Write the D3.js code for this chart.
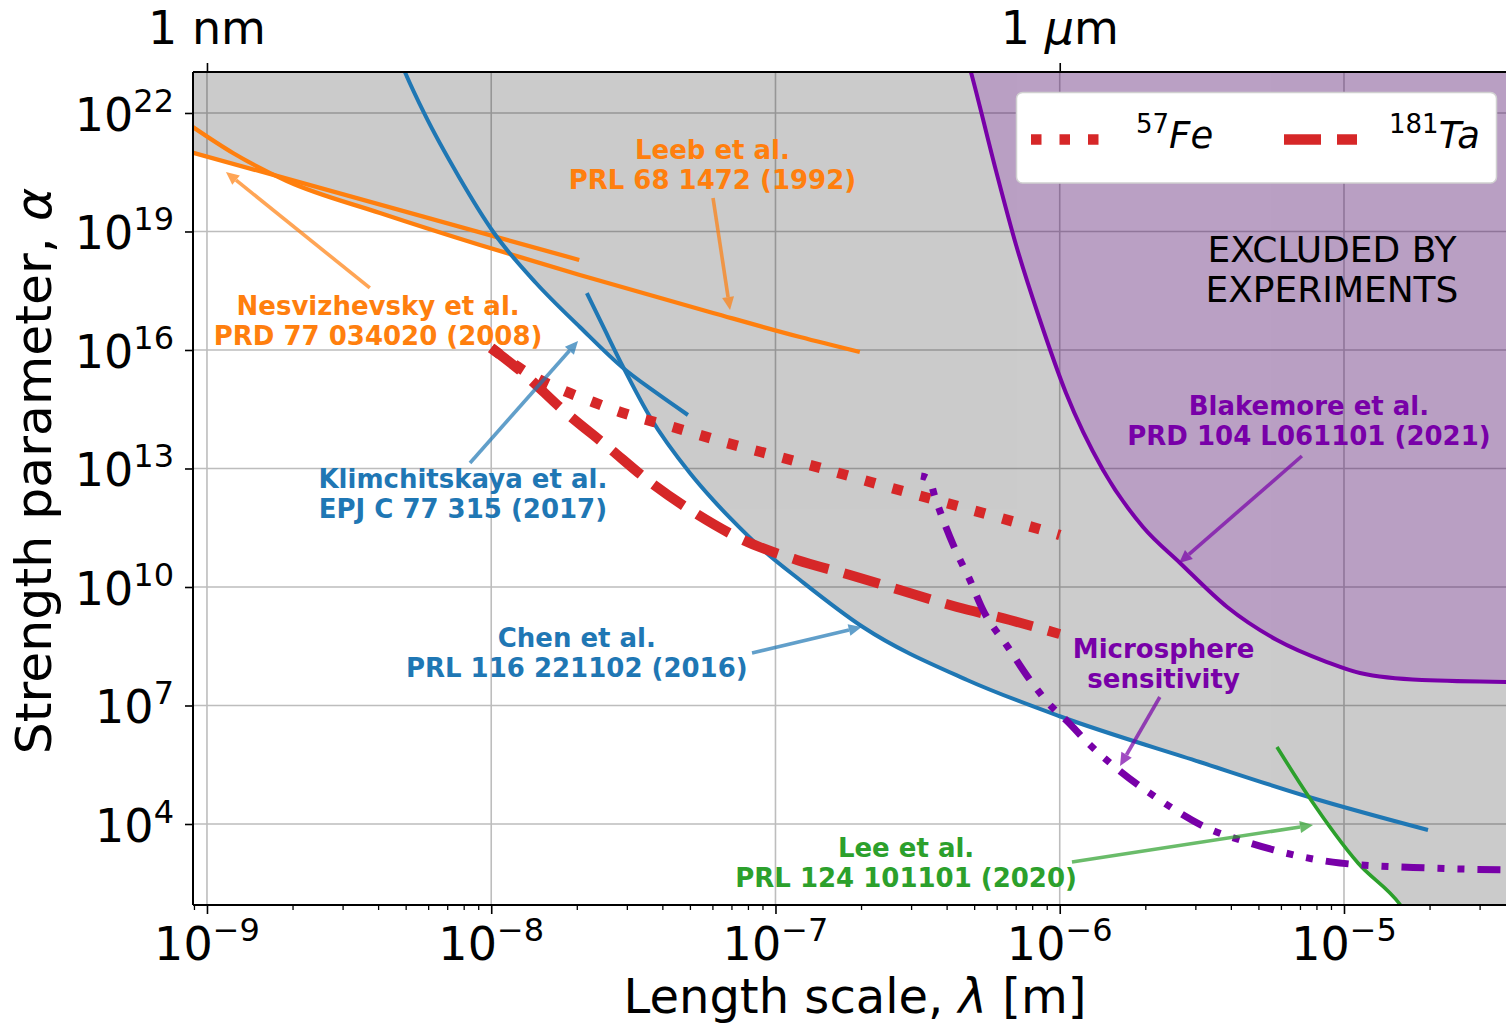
<!DOCTYPE html>
<html>
<head>
<meta charset="utf-8">
<script src="https://cdn.jsdelivr.net/npm/d3@7"></script>
<style>
  body { margin: 0; background: #fff; }
  svg { display: block; font-family: "DejaVu Sans", sans-serif; }
</style>
</head>
<body>
<div id="plot"></div>
<script>
// axis limits: length scale lambda [m], strength alpha
const xLimits = [8.93e-10, 3.9e-5];
const yLimits = [89, 1.09e23];

const xMajorTicks = [1e-9, 1e-8, 1e-7, 1e-6, 1e-5];
const xTickExponents = ["\u22129", "\u22128", "\u22127", "\u22126", "\u22125"];
const yMajorTicks = [1e4, 1e7, 1e10, 1e13, 1e16, 1e19, 1e22];
const yTickExponents = ["4", "7", "10", "13", "16", "19", "22"];
const topTicks = [1e-9, 1e-6];
const topTickUnits = ["nm", "m"];
const topTickPrefix = ["", "\u03bc"];

// existing limits, [lambda, alpha]
const nesvizhevsky = [[8.8e-10, 1.02e21], [2.04e-8, 1.9e18]];
const leeb = [[8.8e-10, 4.7e21], [1.234e-9, 9.7e20], [1.91e-9, 1.9e20], [4.06e-9, 2.94e19], [9.13e-9, 4.55e18],
  [2.05e-8, 7.93e17], [6.03e-8, 8.65e16], [1.22e-7, 2.13e16], [1.98e-7, 8.9e15]];
const klimchitskaya = [[4.62e-9, 3.94e23], [4.97e-9, 1.09e23], [5.85e-9, 8.9e21], [7.7e-9, 2.4e20], [1.023e-8, 9.16e18],
  [1.437e-8, 4.97e17], [2.05e-8, 3.82e16], [2.91e-8, 3.5e15], [3.77e-8, 8.65e14], [4.92e-8, 2.26e14]];
const chen = [[2.17e-8, 2.77e17], [2.51e-8, 3.21e16], [2.91e-8, 3.72e15], [3.62e-8, 2.01e14], [5.0e-8, 7.69e12],
  [6.03e-8, 1.6e12], [6.92e-8, 5.59e11], [9.04e-8, 8.65e10], [1.22e-7, 1.5e10], [2.03e-7, 9.7e8], [4.72e-7, 4.43e7],
  [9.94e-7, 5.42e6], [3.11e-6, 3.71e5], [7.53e-6, 4.83e4], [1.975e-5, 7.05e3]];
const lee = [[5.81e-6, 8.9e5], [7.53e-6, 4.83e4], [1.12e-5, 1.03e3], [1.58e-5, 89], [1.85e-5, 15.5]];
const blakemore = [[4.53e-7, 7.05e23], [4.87e-7, 1.09e23], [5.92e-7, 4.3e20], [7.02e-7, 4.55e18], [8.45e-7, 6.84e16],
  [1.052e-6, 8.15e14], [1.42e-6, 9.16e12], [1.963e-6, 3.3e11], [2.65e-6, 4.06e10], [3.88e-6, 3.12e9],
  [5.81e-6, 4.55e8], [8.71e-6, 1.26e8], [1.138e-5, 6.65e7], [1.88e-5, 4.43e7], [3.9e-5, 3.94e7]];

// projected sensitivities
const fe57 = [[1e-8, 1.12e16], [1.212e-8, 4.17e15], [1.484e-8, 1.74e15], [1.846e-8, 8.65e14], [2.28e-8, 4.83e14],
  [2.84e-8, 2.69e14], [4.36e-8, 1.12e14], [6.75e-8, 4.43e13], [1.037e-7, 1.95e13], [1.62e-7, 8.15e12],
  [2.49e-7, 3.4e12], [3.88e-7, 1.42e12], [6.01e-7, 5.92e11], [1e-6, 2.07e11]];
const ta181 = [[1e-8, 1.12e16], [1.293e-8, 2.62e15], [1.788e-8, 3.03e14], [2.55e-8, 3.72e13], [3.62e-8, 4.55e12],
  [5.21e-8, 7.47e11], [7.69e-8, 1.55e11], [1.19e-7, 4.83e10], [1.83e-7, 2.01e10], [2.74e-7, 8.4e9],
  [4.35e-7, 3.12e9], [6.68e-7, 1.46e9], [1e-6, 6.46e8]];
const microsphere = [[3.25e-7, 6.46e12], [3.47e-7, 5.42e12], [3.64e-7, 1.9e12], [4.25e-7, 1.03e11], [4.83e-7, 1.5e10],
  [5.37e-7, 2.62e9], [6.57e-7, 3.03e8], [7.86e-7, 4.43e7], [9.39e-7, 9.16e6], [1.052e-6, 4.3e6], [1.278e-6, 1.0e6],
  [1.565e-6, 2.77e5], [2.25e-6, 4.06e4], [3.24e-6, 8.39e3], [4.67e-6, 3.3e3], [9.68e-6, 1.03e3], [2.01e-5, 769],
  [3.9e-5, 684]];

const orange = "#ff7f0e", blue = "#1f77b4", green = "#2ca02c", red = "#d62728", purple = "#7800a8";

// label text, anchor (centre of first line), arrow tail and tip
const annotations = [
  { lines: ["Leeb et al.", "PRL 68 1472 (1992)"], color: orange, at: [6.0e-8, 6.84e20], tail: [6.03e-8, 7.05e19], tip: [6.92e-8, 1.03e17] },
  { lines: ["Nesvizhevsky et al.", "PRD 77 034020 (2008)"], color: orange, at: [4.0e-9, 7.69e16], tail: [3.74e-9, 3.72e17], tip: [1.166e-9, 3.21e20] },
  { lines: ["Klimchitskaya et al.", "EPJ C 77 315 (2017)"], color: blue, at: [7.95e-9, 3.21e12], tail: [8.42e-9, 1.38e13], tip: [2.02e-8, 1.69e16] },
  { lines: ["Chen et al.", "PRL 116 221102 (2016)"], color: blue, at: [2.0e-8, 3.03e8], tail: [8.27e-8, 2.13e8], tip: [2.01e-7, 9.7e8] },
  { lines: ["Lee et al.", "PRL 124 101101 (2020)"], color: green, at: [2.88e-7, 1.46e3], tail: [1.104e-6, 1.09e3], tip: [7.78e-6, 9.44e3] },
  { lines: ["Blakemore et al.", "PRD 104 L061101 (2021)"], color: purple, at: [7.53e-6, 2.26e14], tail: [7.11e-6, 2.07e13], tip: [2.63e-6, 4.06e10] },
  { lines: ["Microsphere", "sensitivity"], color: purple, at: [2.32e-6, 1.6e8], tail: [2.25e-6, 1.64e7], tip: [1.63e-6, 2.94e5] }
];
const excludedText = ["EXCLUDED BY", "EXPERIMENTS"];
const excludedAt = [9.07e-6, 1.69e18];

const W = 1506, H = 1027;
const plot = { left: 193, right: 1512, top: 72, bottom: 905 };

const x = d3.scaleLog().domain(xLimits).range([plot.left, plot.right]);
const y = d3.scaleLog().domain(yLimits).range([plot.bottom, plot.top]);
const pt = d => [x(d[0]), y(d[1])];
const smooth = d3.line().curve(d3.curveMonotoneX);

const svg = d3.select("#plot").append("svg").attr("width", W).attr("height", H);

svg.append("defs").append("clipPath").attr("id", "clip").append("rect")
  .attr("x", plot.left).attr("y", plot.top)
  .attr("width", plot.right - plot.left).attr("height", plot.bottom - plot.top);

// grid at the major ticks
const grid = svg.append("g").attr("stroke", "#bdbdbd").attr("stroke-width", 1.6);
xMajorTicks.forEach(v => grid.append("line")
  .attr("x1", x(v)).attr("x2", x(v)).attr("y1", plot.top).attr("y2", plot.bottom));
yMajorTicks.forEach(v => grid.append("line")
  .attr("x1", plot.left).attr("x2", plot.right).attr("y1", y(v)).attr("y2", y(v)));

const body = svg.append("g").attr("clip-path", "url(#clip)");

// excluded region: union of everything above each limit
const topEdge = plot.top - 30, farEdge = plot.right + 30;
const shade = body.append("g").attr("opacity", 0.2);
[nesvizhevsky, leeb, klimchitskaya, chen].forEach(c => {
  const p = c.map(pt);
  shade.append("path").attr("fill", "#000")
    .attr("d", smooth(p) + `L${p[p.length - 1][0]},${topEdge}L${p[0][0]},${topEdge}Z`);
});
{
  const p = lee.map(pt);
  shade.append("path").attr("fill", "#000")
    .attr("d", smooth(p) + `L${farEdge},${plot.bottom + 30}L${farEdge},${topEdge}L${p[0][0]},${topEdge}Z`);
}
{
  const p = blakemore.map(pt);
  body.append("path").attr("fill", purple).attr("opacity", 0.215)
    .attr("d", smooth(p) + `L${farEdge},${p[p.length - 1][1]}L${farEdge},${topEdge}L${p[0][0]},${topEdge}Z`);
}

// limit curves
const drawCurve = (data, color, width, dash, offset) => {
  const path = body.append("path")
    .attr("d", smooth(data.map(pt)))
    .attr("fill", "none")
    .attr("stroke", color)
    .attr("stroke-width", width);
  if (dash) path.attr("stroke-dasharray", dash).attr("stroke-dashoffset", offset || 0);
  return path;
};
drawCurve(nesvizhevsky, orange, 4.3);
drawCurve(leeb, orange, 4.3);
drawCurve(klimchitskaya, blue, 4);
drawCurve(chen, blue, 4);
drawCurve(lee, green, 3.6);
drawCurve(blakemore, purple, 4);
drawCurve(fe57, red, 10.5, "10.5 18");
drawCurve(ta181, red, 10, "37 16");
drawCurve(microsphere, purple, 7, "23 13 7 13 7 13", 17);

// arrows and labels
const labels = svg.append("g").attr("font-weight", "bold").attr("font-size", 26).attr("text-anchor", "middle");
annotations.forEach(a => {
  const [x0, y0] = pt(a.tail), [x1, y1] = pt(a.tip);
  const len = Math.hypot(x1 - x0, y1 - y0), ux = (x1 - x0) / len, uy = (y1 - y0) / len;
  const hl = 13, hw = 6;
  const bx = x1 - ux * hl, by = y1 - uy * hl;
  const g = svg.append("g").attr("opacity", 0.7);
  g.append("line").attr("x1", x0).attr("y1", y0).attr("x2", bx).attr("y2", by)
    .attr("stroke", a.color).attr("stroke-width", 3.6);
  g.append("path").attr("fill", a.color)
    .attr("d", `M${x1},${y1}L${bx - uy * hw},${by + ux * hw}L${bx + uy * hw},${by - ux * hw}Z`);

  const [cx, cy] = pt(a.at);
  a.lines.forEach((t, i) => labels.append("text")
    .attr("x", cx).attr("y", cy + i * 30).attr("fill", a.color).text(t));
});

excludedText.forEach((t, i) => svg.append("text")
  .attr("x", x(excludedAt[0])).attr("y", y(excludedAt[1]) + i * 40)
  .attr("text-anchor", "middle").attr("font-size", 36).attr("fill", "#000").text(t));

// axes
const axes = svg.append("g").attr("stroke", "#000").attr("fill", "none");
axes.append("line").attr("x1", plot.left).attr("x2", plot.left).attr("y1", plot.top).attr("y2", plot.bottom).attr("stroke-width", 2);
axes.append("line").attr("x1", plot.left).attr("x2", plot.right).attr("y1", plot.bottom).attr("y2", plot.bottom).attr("stroke-width", 2);
axes.append("line").attr("x1", plot.left).attr("x2", plot.right).attr("y1", plot.top).attr("y2", plot.top).attr("stroke-width", 2);

const xMinor = [];
for (let e = -10; e <= -5; e++) for (let k = 2; k <= 9; k++) {
  const v = k * Math.pow(10, e);
  if (v >= xLimits[0] && v <= xLimits[1]) xMinor.push(v);
}
svg.append("g").attr("transform", `translate(0,${plot.bottom})`)
  .call(d3.axisBottom(x).tickValues(xMinor).tickFormat("").tickSize(5).tickSizeOuter(0))
  .call(g => g.select(".domain").remove())
  .call(g => g.selectAll("line").attr("stroke-width", 1.3));
svg.append("g").attr("transform", `translate(0,${plot.bottom})`)
  .call(d3.axisBottom(x).tickValues(xMajorTicks).tickFormat("").tickSize(9).tickSizeOuter(0))
  .call(g => g.select(".domain").remove())
  .call(g => g.selectAll("line").attr("stroke-width", 1.6));
svg.append("g").attr("transform", `translate(${plot.left},0)`)
  .call(d3.axisLeft(y).tickValues(yMajorTicks).tickFormat("").tickSize(8).tickSizeOuter(0))
  .call(g => g.select(".domain").remove())
  .call(g => g.selectAll("line").attr("stroke-width", 1.6));
svg.append("g").attr("transform", `translate(0,${plot.top})`)
  .call(d3.axisTop(x).tickValues(topTicks).tickFormat("").tickSize(9).tickSizeOuter(0))
  .call(g => g.select(".domain").remove())
  .call(g => g.selectAll("line").attr("stroke-width", 1.6));

// tick labels
xMajorTicks.forEach((v, i) => {
  const t = svg.append("text").attr("x", x(v)).attr("y", 960).attr("text-anchor", "middle").attr("font-size", 46);
  t.append("tspan").text("10");
  t.append("tspan").attr("font-size", 32).attr("dy", -19).text(xTickExponents[i]);
});
yMajorTicks.forEach((v, i) => {
  const t = svg.append("text").attr("x", 174).attr("y", y(v) + 18).attr("text-anchor", "end").attr("font-size", 46);
  t.append("tspan").text("10");
  t.append("tspan").attr("font-size", 32).attr("dy", -19).text(yTickExponents[i]);
});
topTicks.forEach((v, i) => {
  const t = svg.append("text").attr("x", x(v)).attr("y", 44).attr("text-anchor", "middle").attr("font-size", 46);
  t.append("tspan").text("1 ");
  if (topTickPrefix[i]) t.append("tspan").attr("font-style", "italic").text(topTickPrefix[i]);
  t.append("tspan").text(topTickUnits[i]);
});

// axis titles
{
  const t = svg.append("text").attr("x", 855).attr("y", 1013).attr("text-anchor", "middle").attr("font-size", 48);
  t.append("tspan").text("Length scale, ");
  t.append("tspan").attr("font-style", "italic").text("\u03bb");
  t.append("tspan").text(" [m]");
}
{
  const t = svg.append("text").attr("transform", "translate(51,471) rotate(-90)")
    .attr("text-anchor", "middle").attr("font-size", 50.5);
  t.append("tspan").text("Strength parameter, ");
  t.append("tspan").attr("font-style", "italic").text("\u03b1");
}

// legend
const legendItems = [
  { sup: "57", name: "Fe", dash: "10.5 18", x: 1031 },
  { sup: "181", name: "Ta", dash: "37 16", x: 1284 }
];
const legend = svg.append("g");
legend.append("rect").attr("x", 1016.5).attr("y", 92.5).attr("width", 480).attr("height", 90.5).attr("rx", 6)
  .attr("fill", "#fff").attr("stroke", "#d0d0d0").attr("stroke-width", 1.5);
legendItems.forEach(d => {
  legend.append("line").attr("x1", d.x).attr("x2", d.x + 73).attr("y1", 139.5).attr("y2", 139.5)
    .attr("stroke", red).attr("stroke-width", 10.5).attr("stroke-dasharray", d.dash);
  const t = legend.append("text").attr("x", d.x + 105).attr("y", 148).attr("font-size", 37);
  t.append("tspan").attr("font-size", 26).attr("dy", -15).text(d.sup);
  t.append("tspan").attr("font-style", "italic").attr("dy", 15).text(d.name);
});
</script>
</body>
</html>
